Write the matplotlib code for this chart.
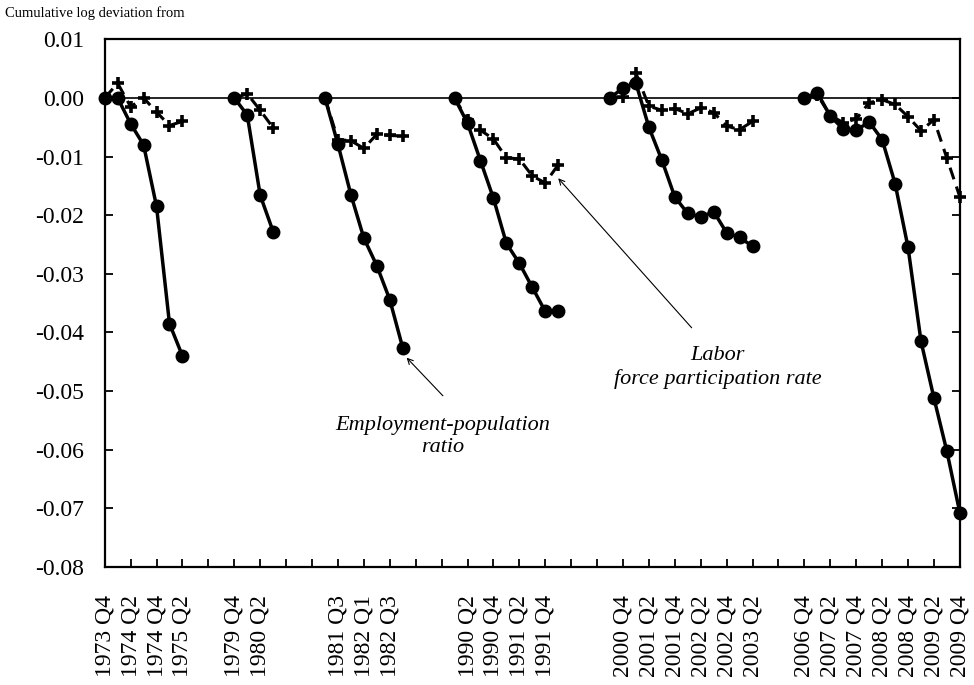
import numpy as np
import matplotlib
matplotlib.use('Agg')
from matplotlib import pyplot as plt

plt.rcParams['font.family'] = ['Liberation Serif', 'DejaVu Serif']

nan = np.nan

# quarters on the x axis, '' = gap between episodes
quarters = (['1973 Q4', '1974 Q1', '1974 Q2', '1974 Q3', '1974 Q4', '1975 Q1', '1975 Q2'] + [''] * 3 +
            ['1979 Q4', '1980 Q1', '1980 Q2', '1980 Q3'] + [''] * 3 +
            ['1981 Q2', '1981 Q3', '1981 Q4', '1982 Q1', '1982 Q2', '1982 Q3', '1982 Q4'] + [''] * 3 +
            ['1990 Q1', '1990 Q2', '1990 Q3', '1990 Q4', '1991 Q1', '1991 Q2', '1991 Q3', '1991 Q4',
             '1992 Q1'] + [''] * 3 +
            ['2000 Q3', '2000 Q4', '2001 Q1', '2001 Q2', '2001 Q3', '2001 Q4', '2002 Q1', '2002 Q2',
             '2002 Q3', '2002 Q4', '2003 Q1', '2003 Q2'] + [''] * 3 +
            ['2006 Q4', '2007 Q1', '2007 Q2', '2007 Q3', '2007 Q4', '2008 Q1', '2008 Q2', '2008 Q3',
             '2008 Q4', '2009 Q1', '2009 Q2', '2009 Q3', '2009 Q4'])

emp_pop = ([0.0, 0.0, -0.0044, -0.0080, -0.0185, -0.0385, -0.0440] + [nan] * 3 +
           [0.0, -0.0029, -0.0166, -0.0228] + [nan] * 3 +
           [0.0, -0.0079, -0.0165, -0.0239, -0.0286, -0.0344, -0.0426] + [nan] * 3 +
           [0.0, -0.0043, -0.0107, -0.0171, -0.0248, -0.0282, -0.0323, -0.0364, -0.0364] + [nan] * 3 +
           [0.0, 0.0017, 0.0025, -0.0050, -0.0106, -0.0169, -0.0197, -0.0203, -0.0194, -0.0230,
            -0.0238, -0.0253] + [nan] * 3 +
           [0.0, 0.0009, -0.0031, -0.0053, -0.0055, -0.0041, -0.0071, -0.0146, -0.0255, -0.0415,
            -0.0512, -0.0603, -0.0708])

lfp = ([0.0, 0.0025, -0.0015, 0.0, -0.0024, -0.0047, -0.0040] + [nan] * 3 +
       [0.0, 0.0007, -0.0021, -0.0051] + [nan] * 3 +
       [0.0, -0.0071, -0.0073, -0.0086, -0.0062, -0.0064, -0.0065] + [nan] * 3 +
       [0.0, -0.0037, -0.0055, -0.0070, -0.0102, -0.0104, -0.0133, -0.0145, -0.0114] + [nan] * 3 +
       [0.0, 0.0001, 0.0042, -0.0014, -0.0021, -0.0018, -0.0027, -0.0017, -0.0025, -0.0048,
        -0.0054, -0.0040] + [nan] * 3 +
       [0.0, 0.0005, -0.0030, -0.0042, -0.0036, -0.0008, -0.0003, -0.0011, -0.0032, -0.0056,
        -0.0037, -0.0103, -0.0169])

y_ticks = [0.01, 0.0, -0.01, -0.02, -0.03, -0.04, -0.05, -0.06, -0.07, -0.08]

x = np.arange(len(quarters))
emp_pop = np.array(emp_pop)
lfp = np.array(lfp)

fig = plt.figure(figsize=(9.74, 6.85), dpi=100)
ax = fig.add_axes([0.1075, 0.1723, 0.878, 0.7703])

ax.axhline(0, color='black', lw=1.2, zorder=1)
ax.plot(x, lfp, color='black', lw=2.2, ls=(0, (4, 2.5)), marker='+', ms=8, mew=2.6,
        clip_on=False, zorder=3)
ax.plot(x, emp_pop, color='black', lw=2.5, marker='o', ms=9, clip_on=False, zorder=4)

ax.set_xlim(0, len(quarters) - 1)
ax.set_ylim(-0.08, 0.01)
ax.set_yticks(y_ticks)
ax.set_yticklabels([f'{v:.2f}' for v in y_ticks], fontsize=17)
ax.set_xticks(x[::2])
ax.set_xticklabels(quarters[::2], rotation=90, fontsize=17)
ax.tick_params(axis='y', direction='in', length=6, width=1.3, right=True, pad=15)
ax.tick_params(axis='x', direction='in', length=6, width=1.3, pad=20)
for s in ax.spines.values():
    s.set_linewidth(1.6)

ax.text(26.1, -0.0578, 'Employment-population\nratio', style='italic', fontsize=16,
        ha='center', va='center', linespacing=1.2)
ax.annotate('', xy=(23.3, -0.0443), xytext=(26.1, -0.0508),
            arrowprops=dict(arrowstyle='->', lw=0.8, color='black', shrinkA=0, shrinkB=0))
ax.text(47.3, -0.0460, 'Labor\nforce participation rate', style='italic', fontsize=16,
        ha='center', va='center', linespacing=1.3)
ax.annotate('', xy=(35.0, -0.0137), xytext=(45.3, -0.0392),
            arrowprops=dict(arrowstyle='->', lw=0.8, color='black', shrinkA=0, shrinkB=0))

fig.text(0.005, 1 - 13 / 685, 'Cumulative log deviation from', fontsize=10.5, va='center', ha='left')

fig.savefig('out.png', dpi=100)
